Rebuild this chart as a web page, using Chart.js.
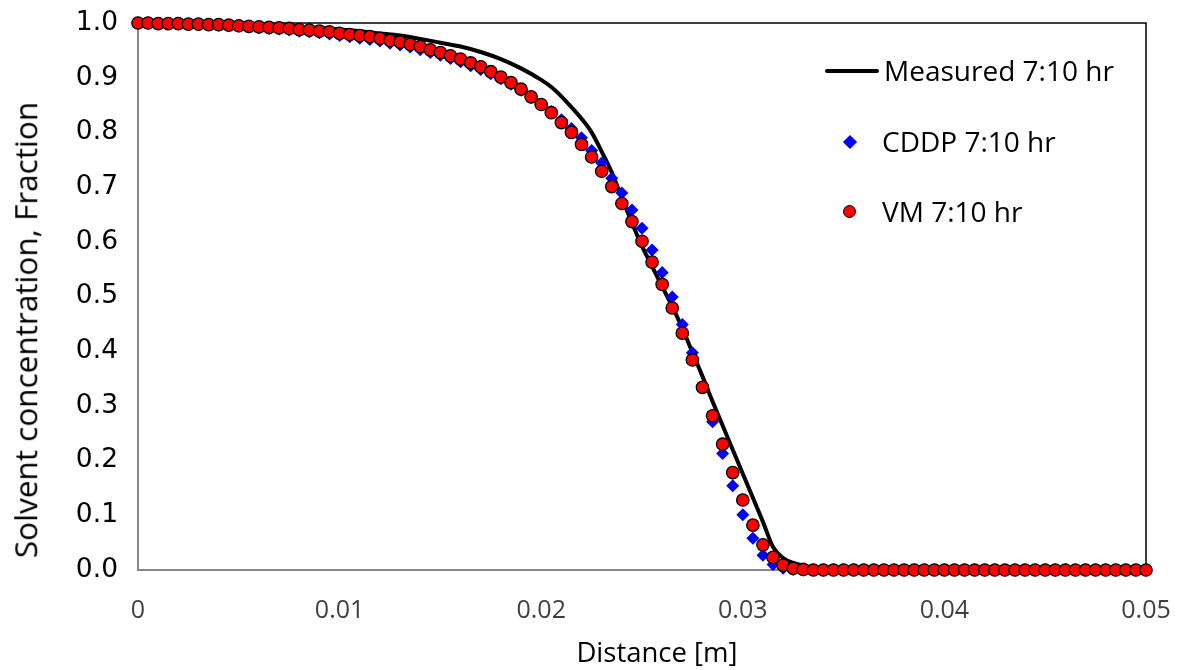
<!DOCTYPE html>
<html>
<head>
<meta charset="utf-8">
<script src="https://cdn.jsdelivr.net/npm/chart.js@4.4.1/dist/chart.umd.min.js"></script>
<style>
  html, body { margin: 0; padding: 0; background: #fff; }
  #wrap { position: relative; width: 1186px; height: 670px; }
  #c { position: absolute; left: 0; top: 0; }
  .leg { position: absolute; font-family: "Open Sans", sans-serif; font-size: 28px; color: #000; line-height: 1; white-space: nowrap; }
  .lline { position: absolute; left: 825px; top: 69px; width: 54px; height: 4px; background: #000; border-radius: 2px; }
  .ldia { position: absolute; left: 845px; top: 137px; width: 10px; height: 10px; background: #0000ff; transform: rotate(45deg); }
  .lcirc { position: absolute; left: 843px; top: 205px; width: 11px; height: 11px; background: #ff0000; border: 1.5px solid #000; border-radius: 50%; }
  .xtitle { position: absolute; left: 657px; top: 652px; transform: translate(-50%, -50%); font-family: "Open Sans", sans-serif; font-size: 27.5px; color: #000; white-space: nowrap; line-height: 1; }
  .ytitle { position: absolute; left: 25px; top: 330px; transform: translate(-50%, -50%) rotate(-90deg); font-family: "Open Sans", sans-serif; font-size: 31.5px; color: #000; white-space: nowrap; line-height: 1; }
</style>
</head>
<body>
<div id="wrap">
  <canvas id="c" width="1186" height="670"></canvas>
  <div class="lline"></div>
  <div class="leg" style="left:884px; top:56px;">Measured 7:10 hr</div>
  <div class="ldia"></div>
  <div class="leg" style="left:882px; top:127px;">CDDP 7:10 hr</div>
  <div class="lcirc"></div>
  <div class="leg" style="left:882px; top:197px;">VM 7:10 hr</div>
  <div class="xtitle" id="xt"></div>
  <div class="ytitle" id="yt"></div>
</div>
<script>
const seriesNames = ["Measured 7:10 hr", "CDDP 7:10 hr", "VM 7:10 hr"];
const xAxisTitle = "Distance [m]";
const yAxisTitle = "Solvent concentration, Fraction";
const xTicks = [0, 0.01, 0.02, 0.03, 0.04, 0.05];
const yTicks = [0, 0.1, 0.2, 0.3, 0.4, 0.5, 0.6, 0.7, 0.8, 0.9, 1.0];

const distance = [0, 0.0005, 0.001, 0.0015, 0.002, 0.0025, 0.003, 0.0035, 0.004, 0.0045,
  0.005, 0.0055, 0.006, 0.0065, 0.007, 0.0075, 0.008, 0.0085, 0.009, 0.0095,
  0.01, 0.0105, 0.011, 0.0115, 0.012, 0.0125, 0.013, 0.0135, 0.014, 0.0145,
  0.015, 0.0155, 0.016, 0.0165, 0.017, 0.0175, 0.018, 0.0185, 0.019, 0.0195,
  0.02, 0.0205, 0.021, 0.0215, 0.022, 0.0225, 0.023, 0.0235, 0.024, 0.0245,
  0.025, 0.0255, 0.026, 0.0265, 0.027, 0.0275, 0.028, 0.0285, 0.029, 0.0295,
  0.03, 0.0305, 0.031, 0.0315, 0.032, 0.0325, 0.033, 0.0335, 0.034, 0.0345,
  0.035, 0.0355, 0.036, 0.0365, 0.037, 0.0375, 0.038, 0.0385, 0.039, 0.0395,
  0.04, 0.0405, 0.041, 0.0415, 0.042, 0.0425, 0.043, 0.0435, 0.044, 0.0445,
  0.045, 0.0455, 0.046, 0.0465, 0.047, 0.0475, 0.048, 0.0485, 0.049, 0.0495,
  0.05];

const vm = [1.000, 1.000, 0.999, 0.999, 0.999, 0.998, 0.998, 0.997, 0.997, 0.996,
  0.995, 0.994, 0.993, 0.992, 0.991, 0.990, 0.988, 0.987, 0.985, 0.984,
  0.981, 0.979, 0.977, 0.975, 0.972, 0.968, 0.965, 0.961, 0.957, 0.951,
  0.946, 0.940, 0.934, 0.927, 0.920, 0.911, 0.901, 0.891, 0.879, 0.865,
  0.851, 0.836, 0.818, 0.800, 0.778, 0.755, 0.729, 0.701, 0.670, 0.637,
  0.601, 0.563, 0.522, 0.479, 0.433, 0.384, 0.334, 0.282, 0.230, 0.178,
  0.128, 0.082, 0.046, 0.023, 0.009, 0.003, 0.001, 0, 0, 0,
  0, 0, 0, 0, 0, 0, 0, 0, 0, 0,
  0, 0, 0, 0, 0, 0, 0, 0, 0, 0,
  0, 0, 0, 0, 0, 0, 0, 0, 0, 0,
  0];

const cddp = [1.000, 1.000, 0.999, 0.999, 0.998, 0.998, 0.997, 0.997, 0.996, 0.995,
  0.994, 0.993, 0.992, 0.990, 0.989, 0.987, 0.985, 0.984, 0.982, 0.980,
  0.977, 0.975, 0.972, 0.970, 0.967, 0.963, 0.960, 0.956, 0.951, 0.946,
  0.941, 0.935, 0.929, 0.922, 0.915, 0.907, 0.898, 0.888, 0.877, 0.864,
  0.851, 0.838, 0.823, 0.807, 0.790, 0.767, 0.744, 0.716, 0.689, 0.658,
  0.625, 0.585, 0.544, 0.499, 0.449, 0.397, 0.335, 0.271, 0.213, 0.154,
  0.101, 0.058, 0.027, 0.010, 0.003, 0.001, 0, 0, 0, 0,
  0, 0, 0, 0, 0, 0, 0, 0, 0, 0,
  0, 0, 0, 0, 0, 0, 0, 0, 0, 0,
  0, 0, 0, 0, 0, 0, 0, 0, 0, 0,
  0];

const measuredX = [0, 0.002, 0.004, 0.006, 0.008, 0.010, 0.011, 0.012, 0.013, 0.014,
  0.015, 0.016, 0.017, 0.018, 0.019, 0.020, 0.0205, 0.021, 0.0215, 0.022,
  0.0225, 0.023, 0.0235, 0.024, 0.0245, 0.025, 0.0255, 0.026, 0.0265, 0.027,
  0.0275, 0.028, 0.0285, 0.029, 0.0295, 0.030, 0.0305, 0.031, 0.0315, 0.032,
  0.0325, 0.033, 0.034, 0.035, 0.036, 0.05];
const measuredY = [1.000, 0.999, 0.998, 0.996, 0.993, 0.988, 0.985, 0.981, 0.977, 0.971,
  0.964, 0.957, 0.947, 0.934, 0.917, 0.896, 0.883, 0.866, 0.846, 0.825,
  0.800, 0.765, 0.727, 0.680, 0.635, 0.592, 0.555, 0.518, 0.482, 0.442,
  0.398, 0.354, 0.308, 0.264, 0.220, 0.176, 0.132, 0.088, 0.042, 0.022,
  0.013, 0.008, 0.003, 0.001, 0, 0];

document.getElementById('xt').textContent = xAxisTitle;
document.getElementById('yt').textContent = yAxisTitle;

const toPts = (xs, ys) => xs.map((x, i) => ({x: x, y: ys[i]}));

const frame = {
  id: 'frame',
  beforeDatasetsDraw(chart) {
    const {ctx, chartArea: a} = chart;
    ctx.save();
    ctx.strokeStyle = '#000';
    ctx.lineWidth = 1.5;
    ctx.beginPath();
    ctx.moveTo(a.left, a.top);
    ctx.lineTo(a.right, a.top);
    ctx.lineTo(a.right, a.bottom);
    ctx.stroke();
    ctx.restore();
  }
};

new Chart(document.getElementById('c'), {
  type: 'scatter',
  data: {
    datasets: [
      {
        label: seriesNames[2],
        data: toPts(distance, vm),
        pointStyle: 'circle',
        pointRadius: 6.2,
        backgroundColor: '#ff0000',
        borderColor: '#000000',
        borderWidth: 1.3,
        showLine: false,
        order: 0,
        clip: false
      },
      {
        label: seriesNames[1],
        data: toPts(distance, cddp),
        pointStyle: 'rectRot',
        pointRadius: 6.5,
        backgroundColor: '#0000ff',
        borderColor: '#0000ff',
        borderWidth: 0,
        showLine: false,
        order: 1,
        clip: false
      },
      {
        label: seriesNames[0],
        data: toPts(measuredX, measuredY),
        showLine: true,
        borderColor: '#000000',
        borderWidth: 4,
        pointRadius: 0,
        cubicInterpolationMode: 'monotone',
        order: 2,
        clip: false
      }
    ]
  },
  options: {
    responsive: false,
    animation: false,
    devicePixelRatio: 1,
    layout: { autoPadding: false, padding: { left: 0, right: 40, top: 23, bottom: 0 } },
    plugins: { legend: { display: false }, tooltip: { enabled: false } },
    scales: {
      x: {
        type: 'linear',
        min: 0, max: 0.05,
        afterBuildTicks(s) { s.ticks = xTicks.map(v => ({value: v})); },
        afterFit(s) { s.height = 100; s.paddingLeft = 0; s.paddingRight = 0; },
        grid: { display: false, drawTicks: false },
        border: { display: true, color: '#878787', width: 2 },
        ticks: {
          padding: 26,
          color: '#404040',
          font: { family: 'Open Sans', size: 25 },
          callback: v => (v === 0 ? '0' : String(+v.toFixed(2)))
        },
        title: { display: false }
      },
      y: {
        type: 'linear',
        min: 0, max: 1,
        afterBuildTicks(s) { s.ticks = yTicks.map(v => ({value: v})); },
        afterFit(s) { s.width = 138; s.paddingTop = 0; s.paddingBottom = 0; },
        grid: { display: false, drawTicks: false },
        border: { display: true, color: '#878787', width: 2 },
        ticks: {
          padding: 20,
          color: '#000',
          font: { family: 'DejaVu Sans', size: 26.5 },
          callback: v => v.toFixed(1)
        },
        title: { display: false }
      }
    }
  },
  plugins: [frame]
});
</script>
</body>
</html>
